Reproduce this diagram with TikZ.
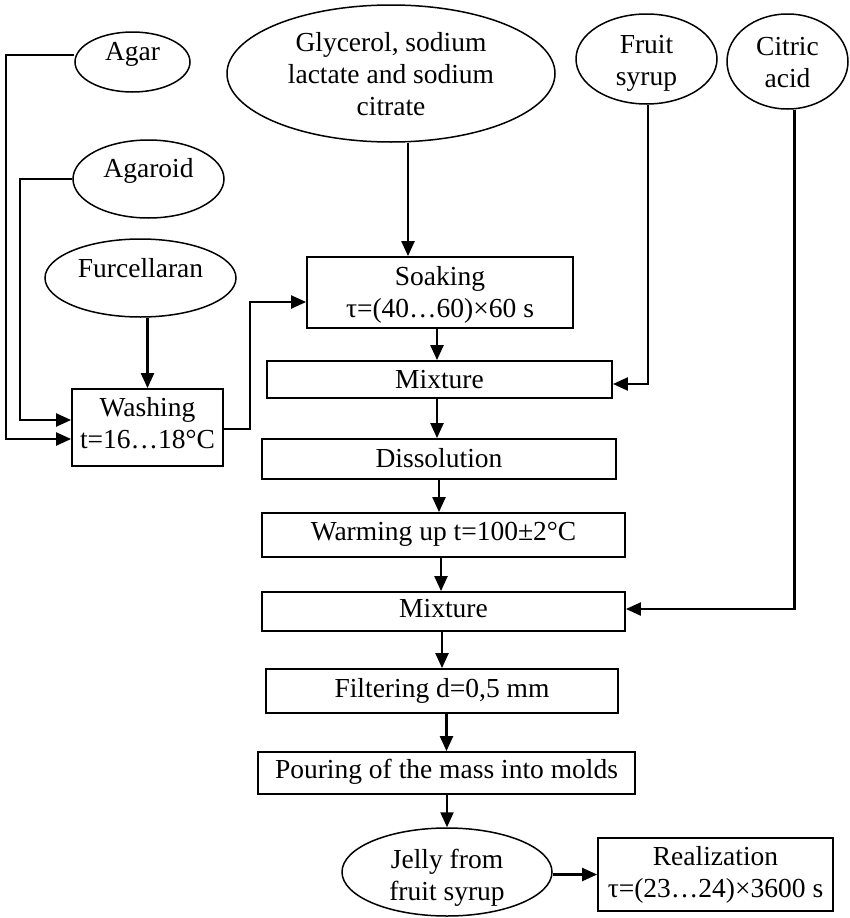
\documentclass[tikz,border=0pt]{standalone}
\usepackage{fontspec}
\setmainfont{Liberation Serif}
\usetikzlibrary{shapes.geometric,arrows.meta}
\newcommand\tx[2]{\smash{\raisebox{-#1pt}{\begin{tabular}{@{}c@{}}#2\end{tabular}}}}
\begin{document}
\begin{tikzpicture}[x=1pt,y=-1pt,
  font=\fontsize{27.5}{32}\selectfont,
  ell/.style={draw,ellipse,line width=1.5pt,inner sep=0pt},
  box/.style={draw,rectangle,line width=1.8pt,inner sep=0pt},
  arr/.style={line width=2.2pt,-{Triangle[length=15pt,width=13pt]}}]
\useasboundingbox (0,0) rectangle (850,918);
% input ellipses
\node[ell,minimum width=115,minimum height=60] (agar) at (132.5,62) {\tx{-2}{Agar}};
\node[ell,minimum width=151,minimum height=78] (agaroid) at (148.5,179) {\tx{-2}{Agaroid}};
\node[ell,minimum width=191,minimum height=78] (furc) at (140.5,278) {\tx{-1}{Furcellaran}};
\node[ell,minimum width=328,minimum height=137] (glyc) at (391,73.5) {\tx{9.5}{Glycerol, sodium\\lactate and sodium\\citrate}};
\node[ell,minimum width=141,minimum height=90] (fruit) at (646.5,59) {\tx{10.5}{Fruit\\syrup}};
\node[ell,minimum width=121,minimum height=95] (citric) at (787.5,61.5) {\tx{10}{Citric\\acid}};
% process boxes
\node[box,minimum width=151,minimum height=77] (wash) at (147.5,427.5) {\tx{5}{Washing\\t=16…18°C}};
\node[box,minimum width=266,minimum height=71] (soak) at (440,292.5) {\tx{9}{Soaking\\τ=(40…60)×60 s}};
\node[box,minimum width=345,minimum height=37] (mixA) at (439.5,379.5) {\tx{9}{Mixture}};
\node[box,minimum width=354,minimum height=40] (diss) at (439,459) {\tx{8}{Dissolution}};
\node[box,minimum width=363,minimum height=44] (warm) at (443.5,535) {\tx{5}{Warming up t=100±2°C}};
\node[box,minimum width=363,minimum height=39] (mixB) at (443.5,611.5) {\tx{5.5}{Mixture}};
\node[box,minimum width=352,minimum height=44] (filt) at (442,691) {\tx{6}{Filtering d=0,5 mm}};
\node[box,minimum width=377,minimum height=42] (pour) at (446.5,773) {\tx{5}{Pouring of the mass into molds}};
\node[ell,minimum width=210,minimum height=88] (jelly) at (447,872) {\tx{12.5}{Jelly from\\fruit syrup}};
\node[box,minimum width=235,minimum height=73] (real) at (715.5,874.5) {\tx{6.5}{Realization\\τ=(23…24)×3600 s}};
% connectors
\draw[arr] ([yshift=7pt]agar.west) -- ++(-68,0) |- ([yshift=-11.5pt]wash.west);
\draw[arr] (agaroid.west) -- ++(-52,0) |- ([yshift=7.5pt]wash.west);
\draw[arr] (wash.north |- furc.south) -- (wash.north);
\draw[arr] ([yshift=-1.5pt]wash.east) -- ++(26,0) |- ([yshift=-9.5pt]soak.west);
\draw[arr] ([xshift=-32pt]soak.north |- glyc.south) -- ([xshift=-32pt]soak.north);
\draw[arr] ([xshift=-3pt]soak.south) -- ([xshift=-3pt]soak.south |- mixA.north);
\draw[arr] ([xshift=1.5pt]fruit.south) |- ([yshift=-4.5pt]mixA.east);
\draw[arr] ([xshift=-2.5pt]mixA.south) -- ([xshift=-2.5pt]mixA.south |- diss.north);
\draw[arr] (diss.south) -- (diss.south |- warm.north);
\draw[arr] ([xshift=-2.5pt]warm.south) -- ([xshift=-2.5pt]warm.south |- mixB.north);
\draw[arr] (filt.north |- mixB.south) -- (filt.north);
\draw[arr] (pour.north |- filt.south) -- (pour.north);
\draw[arr] (jelly.north |- pour.south) -- (jelly.north);
\draw[arr] ([xshift=7pt]citric.south) |- ([yshift=2.5pt]mixB.east);
\draw[arr] (real.west -| jelly.east) -- (real.west);
\end{tikzpicture}
\end{document}
